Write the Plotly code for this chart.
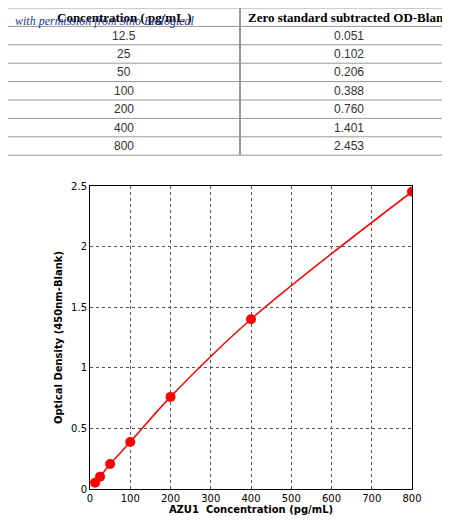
import plotly.graph_objects as go

conc = [12.5, 25, 50, 100, 200, 400, 800]
od = [0.051, 0.102, 0.206, 0.388, 0.760, 1.401, 2.453]
conc_labels = ["12.5", "25", "50", "100", "200", "400", "800"]
od_labels = ["0.051", "0.102", "0.206", "0.388", "0.760", "1.401", "2.453"]
headers = ["<b>Concentration ( pg/mL )</b>", "<b>Zero standard subtracted OD-Blank</b>"]
xticks = [0, 100, 200, 300, 400, 500, 600, 700, 800]
yticks = [0, 0.5, 1, 1.5, 2, 2.5]

W, H = 450, 528
ROW = 18.4
COLX = 232

def py(p):
    return 1 - p / H

def px(p):
    return p / W

fig = go.Figure()
fig.add_trace(go.Scatter(
    x=conc, y=od, mode="lines+markers",
    line=dict(color="red", width=1.5, shape="spline"),
    marker=dict(color="red", size=10),
    xaxis="x", yaxis="y", showlegend=False,
))

shapes = []
annotations = []
nrows = len(conc) + 1
gray = "#999999"
for i in range(nrows + 1):
    y = i * ROW
    shapes.append(dict(type="line", xref="paper", yref="paper", x0=0, x1=1,
                       y0=py(y), y1=py(y), line=dict(color=gray, width=1)))
shapes.append(dict(type="line", xref="paper", yref="paper", x0=px(COLX), x1=px(COLX),
                   y0=py(0), y1=py(nrows * ROW), line=dict(color=gray, width=2)))
shapes.append(dict(type="line", xref="paper", yref="paper", x0=px(449), x1=px(449),
                   y0=py(0), y1=py(nrows * ROW), line=dict(color=gray, width=1)))

hfont = dict(family="Liberation Serif", size=13, color="black")
cfont = dict(family="Liberation Sans", size=12, color="#333")
annotations.append(dict(x=px(COLX / 2), y=py(ROW / 2), text=headers[0], font=hfont))
annotations.append(dict(x=px((COLX + W) / 2), y=py(ROW / 2), text=headers[1], font=hfont))
for i, (a, b) in enumerate(zip(conc_labels, od_labels)):
    yc = py((i + 1.5) * ROW)
    annotations.append(dict(x=px(COLX / 2), y=yc, text=a, font=cfont))
    annotations.append(dict(x=px((COLX + W) / 2), y=yc, text=b, font=cfont))
for a in annotations:
    a.update(xref="paper", yref="paper", showarrow=False, xanchor="center", yanchor="middle")
annotations.append(dict(x=px(5), y=py(13), xref="paper", yref="paper", xanchor="left",
                        yanchor="middle", showarrow=False,
                        text="<i>with permission from Sino Biological</i>",
                        font=dict(family="Liberation Serif", size=12, color="#223a8a")))

axis_font = dict(family="DejaVu Sans", size=10, color="black")
fig.update_layout(
    width=W, height=H, margin=dict(l=0, r=0, t=0, b=0, autoexpand=False),
    paper_bgcolor="white", plot_bgcolor="white",
    shapes=shapes, annotations=annotations,
    xaxis=dict(domain=[px(82), px(404)], range=[0, 800], tickvals=xticks,
               showgrid=True, gridcolor="#555", griddash="dot", gridwidth=1,
               showline=True, linecolor="black", mirror=True, zeroline=False,
               ticks="", tickfont=axis_font, automargin=False,
               title=dict(text="<b>AZU1  Concentration (pg/mL)</b>", font=axis_font, standoff=2),
               anchor="y"),
    yaxis=dict(domain=[py(481), py(178)], range=[0, 2.5], tickvals=yticks,
               showgrid=True, gridcolor="#555", griddash="dot", gridwidth=1,
               showline=True, linecolor="black", mirror=True, zeroline=False,
               ticks="", tickfont=axis_font, automargin=False,
               title=dict(text="<b>Optical Density (450nm-Blank)</b>", font=axis_font, standoff=6),
               anchor="x"),
)
fig.write_html("out.html")
